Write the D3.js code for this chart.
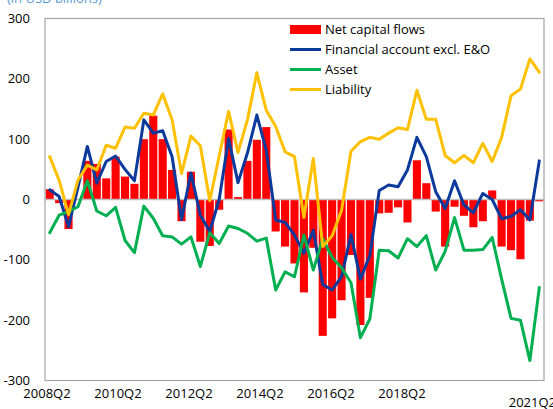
<!DOCTYPE html>
<html>
<head>
<meta charset="utf-8">
<script src="https://cdn.jsdelivr.net/npm/d3@7/dist/d3.min.js"></script>
<style>
  html, body { margin: 0; padding: 0; background: #ffffff; }
  svg { display: block; font-family: "Open Sans", "Noto Sans", sans-serif; }
</style>
</head>
<body>
<svg id="chart" width="553" height="409"></svg>
<script>
// Quarterly categories, 2008Q2 .. 2021Q2
const quarters = d3.range(53).map(i => {
  const k = i + 1;
  return (2008 + Math.floor(k / 4)) + "Q" + ((k % 4) + 1);
});

// Net capital flows (bars), USD billions
const netFlows = [17, -6, -49, 1, 64, 59, 35, 71, 38, 26, 100, 139, 100, 49, -36, 46,
  -70, -77, -17, 116, 4, 64, 99, 120, -53, -78, -106, -154, -80, -226, -197, -167,
  -92, -208, -163, -23, -22, -13, -38, 65, 27, -20, -78, -12, -27, -46, -36, 15,
  -78, -84, -99, -35, -3];

// Financial account excl. E&O
const finAccount = [16, 5, -45, 20, 88, 27, 63, 72, 50, 31, 132, 110, 114, 71, -33, 44,
  -26, -53, 0, 101, 28, 77, 140, 82, -34, -38, -59, -89, -51, -141, -150, -128,
  -58, -132, -93, 15, 24, 21, 49, 103, 71, 13, -15, 31, -9, -22, 10, 0,
  -32, -28, -17, -34, 64];

// Asset
const asset = [-55, -26, -20, -12, 31, -19, -27, -13, -68, -88, -11, -31, -60, -62, -74, -62,
  -111, -55, -73, -44, -48, -56, -69, -64, -150, -120, -128, -59, -117, -65, -96, -113,
  -138, -229, -198, -84, -85, -97, -65, -78, -60, -117, -86, -30, -84, -84, -83, -63,
  -132, -197, -200, -267, -146];

// Liability
const liability = [71, 32, -25, 32, 57, 49, 90, 85, 120, 118, 143, 140, 175, 132, 43, 105,
  89, -2, 72, 146, 78, 132, 210, 148, 121, 79, 71, -30, 68, -78, -60, -18,
  80, 96, 103, 100, 110, 119, 116, 181, 133, 133, 73, 61, 73, 61, 93, 63,
  103, 172, 183, 233, 211];

const yTicks = [-300, -200, -100, 0, 100, 200, 300];
const xTickIndex = [0, 8, 16, 24, 32, 40];
const lastLabel = "2021Q2";

const series = [
  { name: "Financial account excl. E&O", values: finAccount, color: "#0b3a9c" },
  { name: "Asset", values: asset, color: "#00b050" },
  { name: "Liability", values: liability, color: "#ffc000" }
];

const svg = d3.select("#chart");
const plot = { left: 45, right: 544, top: 18.5, bottom: 380.5 };

const x = d3.scaleBand()
  .domain(quarters)
  .range([plot.left, plot.right])
  .paddingInner(0.14)
  .paddingOuter(0.07);

const step = x.step();
const xc = d => x(d) + x.bandwidth() / 2;

const y = d3.scaleLinear().domain([-300, 300]).range([plot.bottom, plot.top]);

// category label positions along the axis
const labelX = d3.scaleLinear().domain([0, 40]).range([47, 402]);

// units note
svg.append("text")
  .attr("x", 7).attr("y", 3)
  .attr("font-size", 13)
  .attr("fill", "#5b9bd5")
  .text("(in USD billions)");

// bars
svg.append("g").selectAll("rect")
  .data(netFlows)
  .join("rect")
  .attr("x", (d, i) => x(quarters[i]))
  .attr("width", x.bandwidth())
  .attr("y", d => y(Math.max(0, d)))
  .attr("height", d => Math.abs(y(d) - y(0)))
  .attr("fill", "#ff0000");

// zero line
svg.append("line")
  .attr("x1", plot.left).attr("x2", plot.right)
  .attr("y1", y(0)).attr("y2", y(0))
  .attr("stroke", "#bfbfbf").attr("stroke-width", 1.3);

// lines
const line = d3.line()
  .x((d, i) => xc(quarters[i]))
  .y(d => y(d));

svg.append("g").selectAll("path")
  .data(series)
  .join("path")
  .attr("d", s => line(s.values))
  .attr("fill", "none")
  .attr("stroke", s => s.color)
  .attr("stroke-width", 3)
  .attr("stroke-linejoin", "round")
  .attr("stroke-linecap", "round");

// plot frame
svg.append("rect")
  .attr("x", plot.left).attr("y", plot.top)
  .attr("width", plot.right - plot.left)
  .attr("height", plot.bottom - plot.top)
  .attr("fill", "none")
  .attr("stroke", "#a6a6a6")
  .attr("stroke-width", 1.2);

// y axis labels
svg.append("g").selectAll("text")
  .data(yTicks)
  .join("text")
  .attr("x", 30)
  .attr("y", d => y(d))
  .attr("dy", "0.35em")
  .attr("text-anchor", "end")
  .attr("font-size", 13)
  .attr("fill", "#000")
  .text(d => d);

// x axis labels
svg.append("g").selectAll("text")
  .data(xTickIndex)
  .join("text")
  .attr("x", d => labelX(d))
  .attr("y", 398)
  .attr("text-anchor", "middle")
  .attr("font-size", 13)
  .attr("fill", "#000")
  .text(d => quarters[d]);

svg.append("text")
  .attr("x", 556).attr("y", 407)
  .attr("text-anchor", "end")
  .attr("font-size", 13)
  .attr("fill", "#000")
  .text(lastLabel);

// legend
const legend = svg.append("g").attr("transform", "translate(290,29.5)");
const legendItems = [{ name: "Net capital flows", type: "bar", color: "#ff0000" }]
  .concat(series.map(s => ({ name: s.name, type: "line", color: s.color })));

const li = legend.selectAll("g")
  .data(legendItems)
  .join("g")
  .attr("transform", (d, i) => `translate(0,${i * 20})`);

li.filter(d => d.type === "bar").append("rect")
  .attr("x", 0).attr("y", -4.5).attr("width", 31).attr("height", 9)
  .attr("fill", d => d.color);

li.filter(d => d.type === "line").append("line")
  .attr("x1", 0).attr("x2", 31).attr("y1", 0).attr("y2", 0)
  .attr("stroke", d => d.color).attr("stroke-width", 3);

li.append("text")
  .attr("x", 35).attr("y", 0).attr("dy", "0.35em")
  .attr("font-size", 13)
  .attr("fill", "#000")
  .text(d => d.name);
</script>
</body>
</html>
